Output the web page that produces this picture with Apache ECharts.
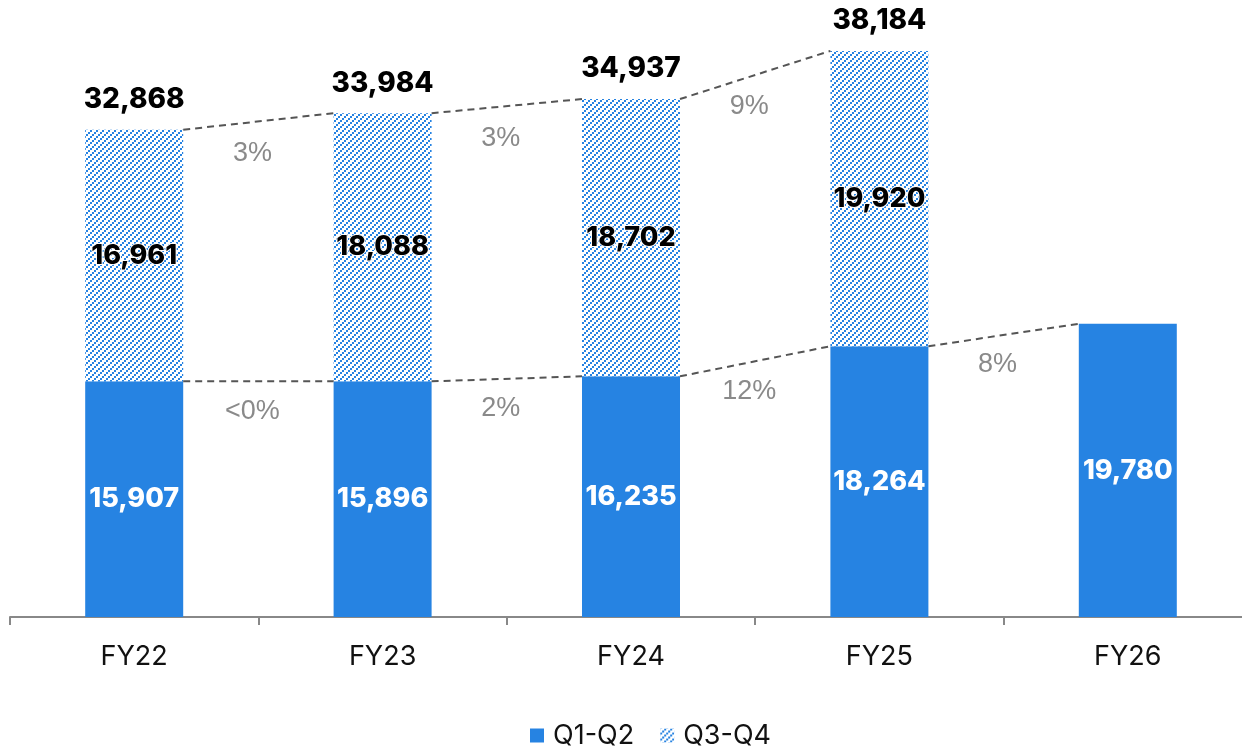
<!DOCTYPE html>
<html>
<head>
<meta charset="utf-8">
<script src="https://cdn.jsdelivr.net/npm/echarts@6/dist/echarts.min.js"></script>
<style>
  html, body { margin: 0; padding: 0; background: #fff; }
  #chart { width: 1242px; height: 748px; }
</style>
</head>
<body>
<div id="chart"></div>
<script>
// data
const categories = ['FY22', 'FY23', 'FY24', 'FY25', 'FY26'];
const h1Values = [15907, 15896, 16235, 18264, 19780];
const h2Values = [16961, 18088, 18702, 19920, null];
const totals = [32868, 33984, 34937, 38184, null];
const h1Growth = ['<0%', '2%', '12%', '8%'];
const totalGrowth = ['3%', '3%', '9%'];

const BLUE = '#2683e2';
const NUM_FONT = 'Inter, "Noto Sans", sans-serif';
const BAR_W = 98;

// hatch pattern for the Q3-Q4 part: staircase of small squares going up to the right
function makeHatch() {
  const c = document.createElement('canvas');
  c.width = 6;
  c.height = 6;
  const ctx = c.getContext('2d');
  ctx.fillStyle = '#fff';
  ctx.fillRect(0, 0, 6, 6);
  ctx.fillStyle = BLUE;
  ctx.fillRect(0, 4, 2, 2);
  ctx.fillRect(2, 2, 2, 2);
  ctx.fillRect(4, 0, 2, 2);
  return c;
}
const hatch = { image: makeHatch(), repeat: 'repeat' };

const chart = echarts.init(document.getElementById('chart'));

// dashed connectors, growth labels and totals
function renderExtras(params, api) {
  const i = params.dataIndex;
  const half = BAR_W / 2;
  const kids = [];
  const dash = { stroke: '#555', lineWidth: 2, lineDash: [7, 5] };
  const pctStyle = { fill: '#8a8a8a', font: '27px "Liberation Sans", Arial, sans-serif', align: 'center', verticalAlign: 'middle' };

  if (i < h1Values.length - 1) {
    const a = api.coord([i, h1Values[i]]);
    const b = api.coord([i + 1, h1Values[i + 1]]);
    kids.push({ type: 'line', shape: { x1: a[0] + half, y1: a[1], x2: b[0] - half, y2: b[1] }, style: dash });
    kids.push({ type: 'text', x: (a[0] + b[0]) / 2 - 6, y: (a[1] + b[1]) / 2 + 30, style: Object.assign({ text: h1Growth[i] }, pctStyle) });
  }
  if (totals[i] != null && totals[i + 1] != null) {
    const a = api.coord([i, totals[i]]);
    const b = api.coord([i + 1, totals[i + 1]]);
    kids.push({ type: 'line', shape: { x1: a[0] + half, y1: a[1], x2: b[0] - half, y2: b[1] }, style: dash });
    kids.push({ type: 'text', x: (a[0] + b[0]) / 2 - 6, y: (a[1] + b[1]) / 2 + 32, style: Object.assign({ text: totalGrowth[i] }, pctStyle) });
  }
  if (totals[i] != null) {
    const p = api.coord([i, totals[i]]);
    kids.push({
      type: 'text', x: p[0], y: p[1] - 30,
      style: { text: totals[i].toLocaleString('en-US'), fill: '#000', font: '800 28px ' + NUM_FONT, align: 'center', verticalAlign: 'middle' }
    });
  }
  return { type: 'group', children: kids };
}

const option = {
  animation: false,
  grid: { left: 10, width: 1242, top: 24, bottom: 131, outerBoundsMode: 'none', containLabel: false },
  legend: {
    data: ['Q1-Q2', 'Q3-Q4'],
    top: 717,
    left: 525,
    icon: 'rect',
    itemWidth: 14,
    itemHeight: 14,
    itemGap: 26,
    textStyle: { fontSize: 27, color: '#111', fontFamily: NUM_FONT, padding: [0, 0, 0, 4] }
  },
  xAxis: {
    type: 'category',
    data: categories,
    axisLine: { lineStyle: { color: '#888', width: 2 } },
    axisTick: { show: true, length: 8, lineStyle: { color: '#888', width: 2 } },
    axisLabel: { color: '#111', fontSize: 27, fontFamily: NUM_FONT, margin: 26 }
  },
  yAxis: { type: 'value', min: 0, max: 40000, show: false, splitLine: { show: false } },
  series: [
    {
      name: 'Q1-Q2',
      type: 'bar',
      stack: 'fy',
      barWidth: BAR_W,
      data: h1Values,
      itemStyle: { color: BLUE },
      label: {
        show: true, position: 'inside', color: '#fff',
        fontSize: 27, fontWeight: 800, fontFamily: NUM_FONT,
        formatter: p => p.value.toLocaleString('en-US')
      }
    },
    {
      name: 'Q3-Q4',
      type: 'bar',
      stack: 'fy',
      barWidth: BAR_W,
      data: h2Values,
      itemStyle: { color: hatch },
      label: {
        show: true, position: 'inside', color: '#000',
        fontSize: 27, fontWeight: 800, fontFamily: NUM_FONT,
        textBorderColor: '#fff', textBorderWidth: 2,
        formatter: p => p.value == null ? '' : p.value.toLocaleString('en-US')
      }
    },
    {
      name: 'extras',
      type: 'custom',
      data: categories.map((c, i) => [i, h1Values[i]]),
      encode: { x: 0, y: 1 },
      renderItem: renderExtras,
      silent: true,
      z: 5
    }
  ]
};

chart.setOption(option);
window.onresize = function () {
  chart.resize();
};
</script>
</body>
</html>
